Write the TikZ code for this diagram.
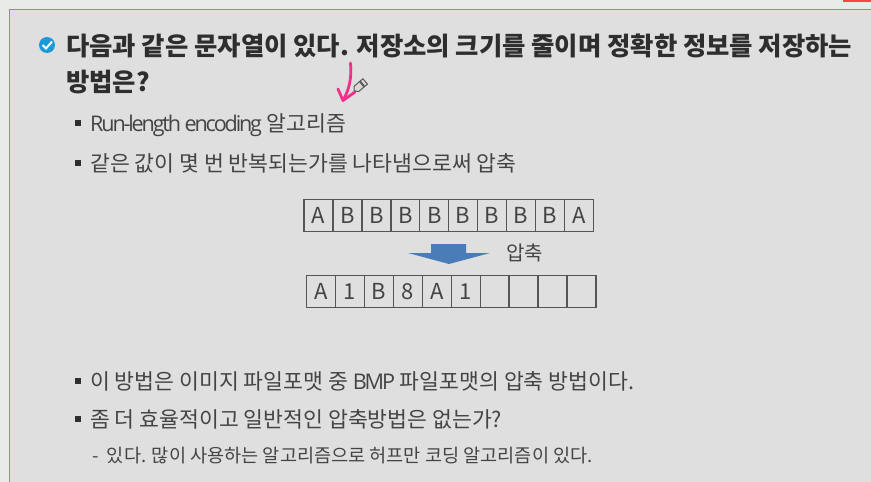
\documentclass[tikz,border=0pt]{standalone}
\usepackage{fontspec}
\newfontfamily\cjk{Noto Sans CJK KR}
\newfontfamily\latn[LetterSpace=-10]{Open Sans}
\usepackage{xcolor}
\usetikzlibrary{positioning, arrows.meta}
\definecolor{pagebg}{HTML}{E9EBE9}
\definecolor{panelbg}{HTML}{DFDFDF}
\definecolor{panelline}{HTML}{3FA9D0}
\definecolor{checkblue}{HTML}{1B9AD8}
\definecolor{inkdark}{HTML}{2E2E2E}
\definecolor{inkbody}{HTML}{444444}
\definecolor{celline}{HTML}{555555}
\definecolor{arrowblue}{HTML}{4A7DB8}
\definecolor{penpink}{HTML}{F0308A}
\tikzset{
    headline/.style={anchor=base west, inner sep=0pt, text=inkdark, font=\cjk\bfseries\fontsize{25.35}{28}\selectfont},
    bodyline/.style={anchor=base west, inner sep=0pt, text=inkbody, font=\cjk\fontsize{21.6}{25}\selectfont},
    subline/.style={anchor=base west, inner sep=0pt, text=inkbody, font=\cjk\fontsize{18.6}{22}\selectfont},
    bulletbox/.style={rectangle, fill=inkdark, inner sep=0pt, minimum size=6pt},
    cellbox/.style={rectangle, draw=celline, line width=1.2pt, inner sep=0pt, text=inkbody,
        minimum width=28.8pt, minimum height=32.5pt, font=\cjk\fontsize{22}{26}\selectfont},
}
\begin{document}
\begin{tikzpicture}[x=1pt, y=-1pt]
\useasboundingbox (0,0) rectangle (871,482);
% Background and panel
\fill[pagebg] (0,0) rectangle (871,482);
\fill[panelbg] (9.5,9.5) rectangle (871,482);
\draw[panelline, line width=1.3pt] (871,9.5) -- (9.5,9.5) -- (9.5,482);
\fill[red!70!pagebg] (843,0) rectangle (871,1.5);

% Heading
\node[circle, fill=checkblue, minimum size=16pt, inner sep=0pt] (check) at (47,45) {};
\draw[white, line width=2pt] (42.5,45) -- (46,48.5) -- (52,41.5);
\node[headline] (head1) at (66,55) {다음과 같은 문자열이 있다. 저장소의 크기를 줄이며 정확한 정보를 저장하는};
\node[headline] (head2) at (66,91) {방법은?};

% Bullet lines
\node[bulletbox] (b1) at (78,123) {};
\node[bodyline] (t1) at (90,131) {{\latn Run-length encoding} 알고리즘};
\node[bulletbox] (b2) at (78,163) {};
\node[bodyline] (t2) at (90,171) {같은 값이 몇 번 반복되는가를 나타냄으로써 압축};
\node[bulletbox] (b3) at (78,381) {};
\node[bodyline] (t3) at (90,389) {이 방법은 이미지 파일포맷 중 {\latn BMP} 파일포맷의 압축 방법이다.};
\node[bulletbox] (b4) at (78,419) {};
\node[bodyline] (t4) at (90,427) {좀 더 효율적이고 일반적인 압축방법은 없는가?};
\node[subline] (t5) at (92,462) {-\ \ 있다. 많이 사용하는 알고리즘으로 허프만 코딩 알고리즘이 있다.};

% Top row of cells
\foreach \idx/\val in {1/A,2/B,3/B,4/B,5/B,6/B,7/B,8/B,9/B,10/A} {
    \pgfmathsetmacro{\xpos}{304+28.95*\idx-14.5}
    \node[cellbox] (top\idx) at (\xpos,215.5) {\val};
}
% Bottom row of cells
\foreach \idx/\val in {1/A,2/1,3/B,4/8,5/A,6/1,7/{},8/{},9/{},10/{}} {
    \pgfmathsetmacro{\xpos}{306.5+28.95*\idx-14.5}
    \node[cellbox] (bot\idx) at (\xpos,291.5) {\val};
}

% Block arrow
\fill[arrowblue] (431,244) -- (466,244) -- (466,253) -- (490,253) -- (449,264) -- (408,253) -- (431,253) -- cycle;
\node[bodyline, font=\cjk\fontsize{20}{24}\selectfont] (press) at (506,260) {압축};

% Pen stroke
\draw[penpink, line width=2.8pt, line cap=round, line join=round]
    (350.5,63) .. controls (352,78) and (349,90) .. (343,100.5);
\draw[penpink, line width=2.8pt, line cap=round, line join=round]
    (338,89) -- (343,100.5) -- (355,92);

% Pencil cursor
\begin{scope}[shift={(361,85)}, rotate=40]
    \draw[black!65, fill=black!15, line width=1pt] (-6,-3.5) -- (5.5,-3.5) -- (5.5,3.5) -- (-6,3.5) -- (-9,0) -- cycle;
    \draw[black!65, line width=2pt] (1.5,-3.5) -- (1.5,3.5);
\end{scope}
\end{tikzpicture}
\end{document}
